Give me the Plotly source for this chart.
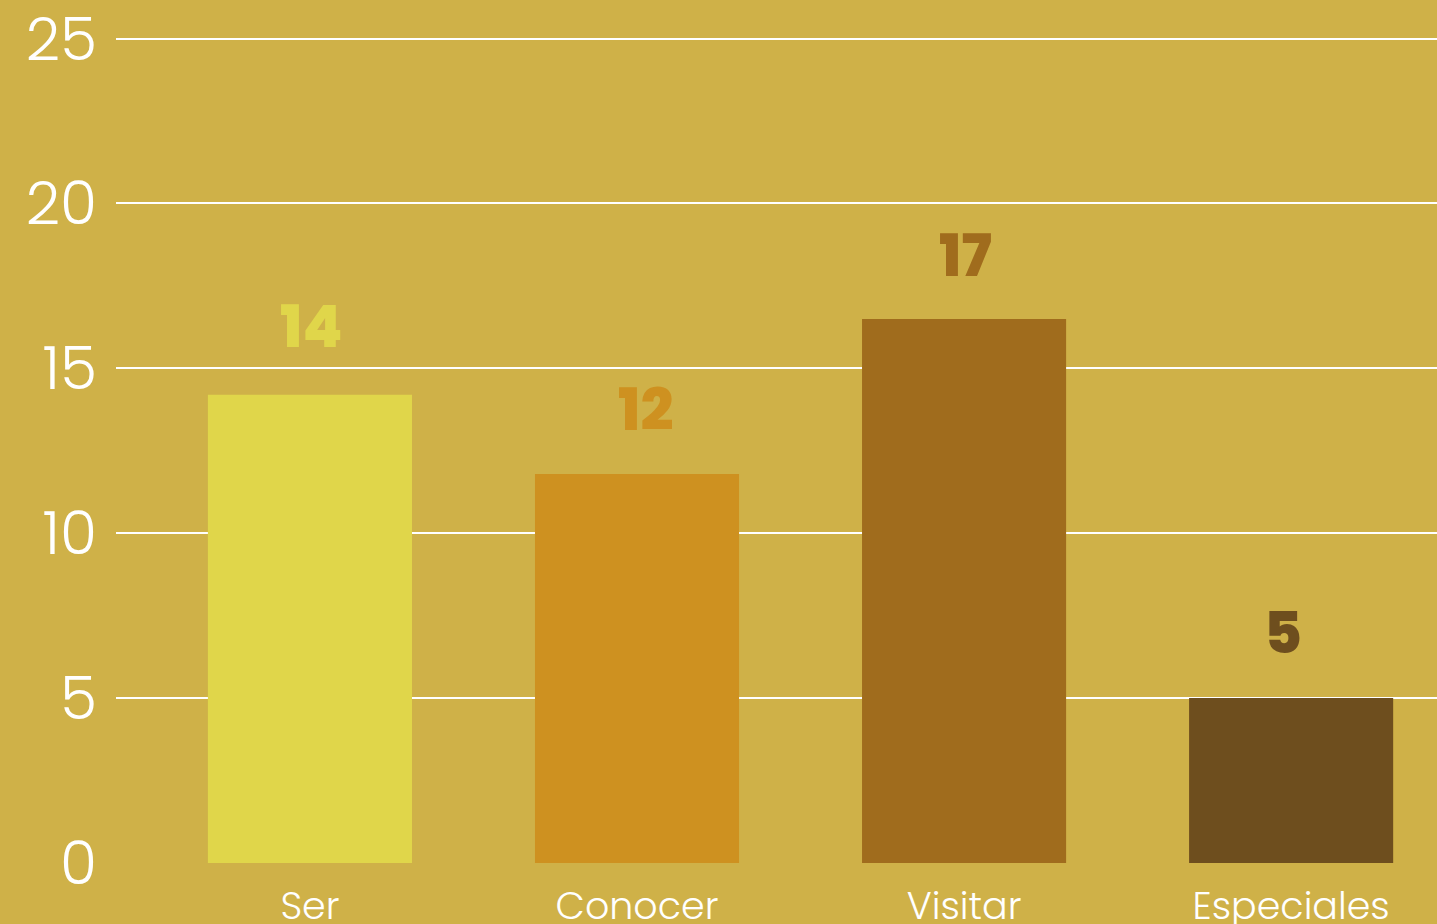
import plotly.graph_objects as go

categories = ["Ser", "Conocer", "Visitar", "Especiales"]
values = [14.2, 11.8, 16.5, 5.0]
labels = ["14", "12", "17", "5"]
colors = ["#E0D64A", "#CE9120", "#A06C1D", "#6E4E1E"]
y_ticks = [0, 5, 10, 15, 20, 25]

BG = "#CFB148"
FONT = "Poppins, Inter, Lato, sans-serif"
LABEL_XSHIFT = [2, 8, 1, -8]
LABEL_YSHIFT = [68, 64, 63, 66]

fig = go.Figure()
fig.add_trace(go.Bar(
    x=categories, y=values,
    marker=dict(color=colors, line=dict(width=0)),
    width=0.624,
    hoverinfo="skip",
))

for c, v, t, col, dx, dy in zip(categories, values, labels, colors, LABEL_XSHIFT, LABEL_YSHIFT):
    fig.add_annotation(
        x=c, y=v, text=t, showarrow=False,
        yanchor="middle", yshift=dy, xshift=dx,
        font=dict(family=FONT, size=58, color=col, weight=800),
    )

fig.update_layout(
    width=1437, height=924,
    paper_bgcolor=BG, plot_bgcolor=BG,
    margin=dict(l=116, r=0, t=32, b=61, autoexpand=False),
    showlegend=False,
    xaxis=dict(
        range=[-0.593, 3.446],
        showgrid=False, zeroline=False, showline=False,
        tickfont=dict(family=FONT, size=38, color="white", weight=300),
        ticks="", ticklabelstandoff=17, automargin=False,
    ),
    yaxis=dict(
        range=[0, 25.2], tickvals=y_ticks,
        showgrid=True, gridcolor="white", gridwidth=2,
        zeroline=False, showline=False,
        tickfont=dict(family=FONT, size=60, color="white", weight=300),
        ticks="", ticklabelstandoff=18, automargin=False,
        ticklabeloverflow="allow",
    ),
)

fig.write_html(
    "out.html",
    config={"displayModeBar": False},
    post_script="document.body.style.margin='0';document.body.style.padding='0';document.body.style.background='" + BG + "';",
)
